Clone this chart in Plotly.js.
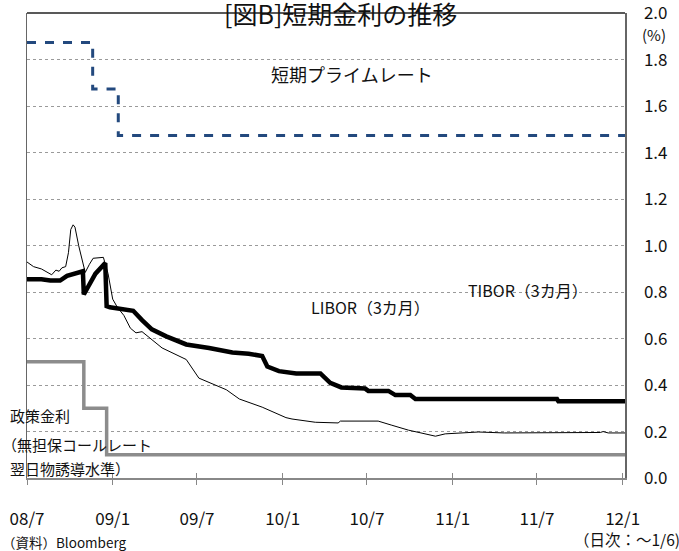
<!DOCTYPE html>
<html>
<head>
<meta charset="utf-8">
<script src="https://cdn.plot.ly/plotly-3.0.1.min.js"></script>
<style>html,body{margin:0;padding:0;background:#fff;}#chart{width:679px;height:551px;}</style>
</head>
<body>
<div id="chart"></div>
<script>
// Short-term prime rate
const primeDates = ['2008-07-01','2008-11-19','2009-01-13','2012-01-06'];
const primeVals  = [1.875, 1.675, 1.475, 1.475];

// Policy rate (uncollateralized overnight call rate target)
const policyDates = ['2008-07-01','2008-10-31','2008-12-19','2012-01-06'];
const policyVals  = [0.5, 0.3, 0.1, 0.1];

// TIBOR 3M (thick)
const tiborDates = ['2008-07-01','2008-08-01','2008-08-20','2008-09-10','2008-09-25','2008-10-15','2008-10-29','2008-10-31',
  '2008-11-10','2008-11-25','2008-12-16','2008-12-19','2008-12-26','2009-01-15','2009-02-14','2009-03-05','2009-03-26',
  '2009-04-26','2009-06-08','2009-07-27','2009-09-15','2009-10-20','2009-11-18','2009-11-29','2009-12-24','2010-01-30',
  '2010-03-23','2010-04-13','2010-05-07','2010-06-27','2010-07-04','2010-08-16','2010-08-31','2010-10-02','2010-10-13',
  '2011-08-13','2011-08-16','2012-01-06'];
const tiborVals = [0.856,0.856,0.85,0.85,0.87,0.88,0.89,0.79,
  0.83,0.88,0.925,0.74,0.735,0.73,0.72,0.68,0.64,
  0.61,0.575,0.56,0.54,0.535,0.525,0.48,0.46,0.45,
  0.45,0.41,0.39,0.385,0.375,0.375,0.357,0.357,0.34,
  0.34,0.33,0.33];

// LIBOR 3M yen (thin)
const liborDates = ['2008-07-01','2008-07-15','2008-08-01','2008-08-15','2008-08-23','2008-09-01','2008-09-08','2008-09-14',
  '2008-09-22','2008-09-28','2008-10-03','2008-10-08','2008-10-12','2008-10-20','2008-11-03','2008-11-12','2008-11-20',
  '2008-12-12','2008-12-22','2009-01-01','2009-01-11','2009-01-25','2009-02-08','2009-02-20','2009-03-05','2009-04-17',
  '2009-06-08','2009-07-05','2009-09-02','2009-09-30','2009-11-18','2010-01-08','2010-01-21','2010-03-12','2010-04-30',
  '2010-05-05','2010-07-25','2010-08-22','2010-09-28','2010-10-25','2010-11-25','2010-12-16','2011-02-18','2011-02-25',
  '2011-04-22','2011-11-14','2011-11-20','2011-12-01','2012-01-06'];
const liborVals = [0.93,0.91,0.90,0.885,0.875,0.895,0.89,0.905,
  0.91,0.97,1.07,1.09,1.08,1.00,0.885,0.92,0.946,
  0.95,0.88,0.77,0.735,0.70,0.645,0.625,0.63,0.56,
  0.51,0.43,0.38,0.34,0.305,0.26,0.254,0.24,0.237,
  0.245,0.245,0.228,0.206,0.194,0.18,0.19,0.195,0.198,
  0.194,0.196,0.2,0.194,0.194];

const yTicks = [0,0.2,0.4,0.6,0.8,1.0,1.2,1.4,1.6,1.8,2.0];
const xRange = ['2008-07-01','2012-01-06'];

const JP = "'Noto Sans CJK JP',sans-serif";

const traces = [
  {x: primeDates, y: primeVals, mode:'lines', line:{shape:'hv', color:'#23497e', width:3, dash:'dash'}, hoverinfo:'skip'},
  {x: policyDates, y: policyVals, mode:'lines', line:{shape:'hv', color:'#8c8c8c', width:3.5}, hoverinfo:'skip'},
  {x: liborDates, y: liborVals, mode:'lines', line:{color:'#000', width:1}, hoverinfo:'skip'},
  {x: tiborDates, y: tiborVals, mode:'lines', line:{color:'#000', width:4.5}, hoverinfo:'skip'},
  {x: xRange, y: [null,null], xaxis:'x2', mode:'lines', hoverinfo:'skip'}
];

const layout = {
  width: 679, height: 551,
  margin: {l:27, r:54, t:13, b:73},
  paper_bgcolor:'#fff', plot_bgcolor:'#fff',
  showlegend:false,
  font:{family:JP, color:'#111', size:17},
  xaxis:{
    type:'date', range:xRange, tick0:'2008-07-01', dtick:'M6', tickformat:'%y/%-m',
    ticks:'outside', ticklen:5, tickcolor:'#888', tickwidth:1,
    showline:true, linecolor:'#888', linewidth:1.5, showgrid:false, zeroline:false,
    ticklabelstandoff:20, tickfont:{size:17, family:JP, color:'#111'}
  },
  xaxis2:{
    type:'date', range:xRange, tick0:'2008-07-01', dtick:'M6', overlaying:'x', anchor:'y',
    ticks:'inside', ticklen:5, tickcolor:'#888', tickwidth:1, showticklabels:false,
    showline:false, showgrid:false, zeroline:false
  },
  yaxis:{
    side:'right', range:[0,2.002], tickvals:yTicks, tickformat:'.1f',
    showgrid:true, gridcolor:'#9a9a9a', griddash:'dot', gridwidth:1,
    showline:true, linecolor:'#666', linewidth:1.5, mirror:true, zeroline:false,
    ticks:'', ticklabelstandoff:14, ticklabeloverflow:'allow', tickfont:{size:17, family:JP, color:'#111'}
  },
  shapes:[
    {type:'line', xref:'paper', yref:'paper', x0:0, x1:1, y0:1, y1:1, line:{color:'#222', width:1.5}}
  ],
  annotations:[
    {text:'[図B]短期金利の推移', xref:'paper', yref:'paper', x:0.525, y:1.0, yanchor:'middle', xanchor:'center', showarrow:false, font:{size:25, family:JP, color:'#111'}},
    {text:'(%)', xref:'paper', yref:'paper', x:1.025, y:0.953, xanchor:'left', yanchor:'middle', showarrow:false, font:{size:15, family:JP, color:'#111'}},
    {text:'短期プライムレート', xref:'paper', yref:'paper', x:0.543, y:0.869, xanchor:'center', yanchor:'middle', showarrow:false, font:{size:18, family:JP, color:'#111'}},
    {text:'LIBOR（3カ月）', xref:'paper', yref:'paper', x:0.574, y:0.367, xanchor:'center', yanchor:'middle', showarrow:false, font:{size:16, family:JP, color:'#111'}},
    {text:'TIBOR（3カ月）', xref:'paper', yref:'paper', x:0.838, y:0.404, xanchor:'center', yanchor:'middle', showarrow:false, font:{size:16, family:JP, color:'#111'}},
    {text:'政策金利', xref:'paper', yref:'paper', x:-0.032, y:0.135, xanchor:'left', yanchor:'middle', showarrow:false, font:{size:15, family:JP, color:'#111'}},
    {text:'（無担保コールレート', xref:'paper', yref:'paper', x:-0.045, y:0.071, xanchor:'left', yanchor:'middle', showarrow:false, font:{size:15, family:JP, color:'#111'}},
    {text:'翌日物誘導水準）', xref:'paper', yref:'paper', x:-0.032, y:0.021, xanchor:'left', yanchor:'middle', showarrow:false, font:{size:15, family:JP, color:'#111'}},
    {text:'（資料）Bloomberg', xref:'paper', yref:'paper', x:-0.045, y:-0.137, xanchor:'left', yanchor:'middle', showarrow:false, font:{size:13.5, family:JP, color:'#111'}},
    {text:'（日次：～1/6)', xref:'paper', yref:'paper', x:1.095, y:-0.132, xanchor:'right', yanchor:'middle', showarrow:false, font:{size:15.5, family:JP, color:'#111'}}
  ]
};

Plotly.newPlot('chart', traces, layout, {staticPlot:true, displayModeBar:false});
</script>
</body>
</html>
